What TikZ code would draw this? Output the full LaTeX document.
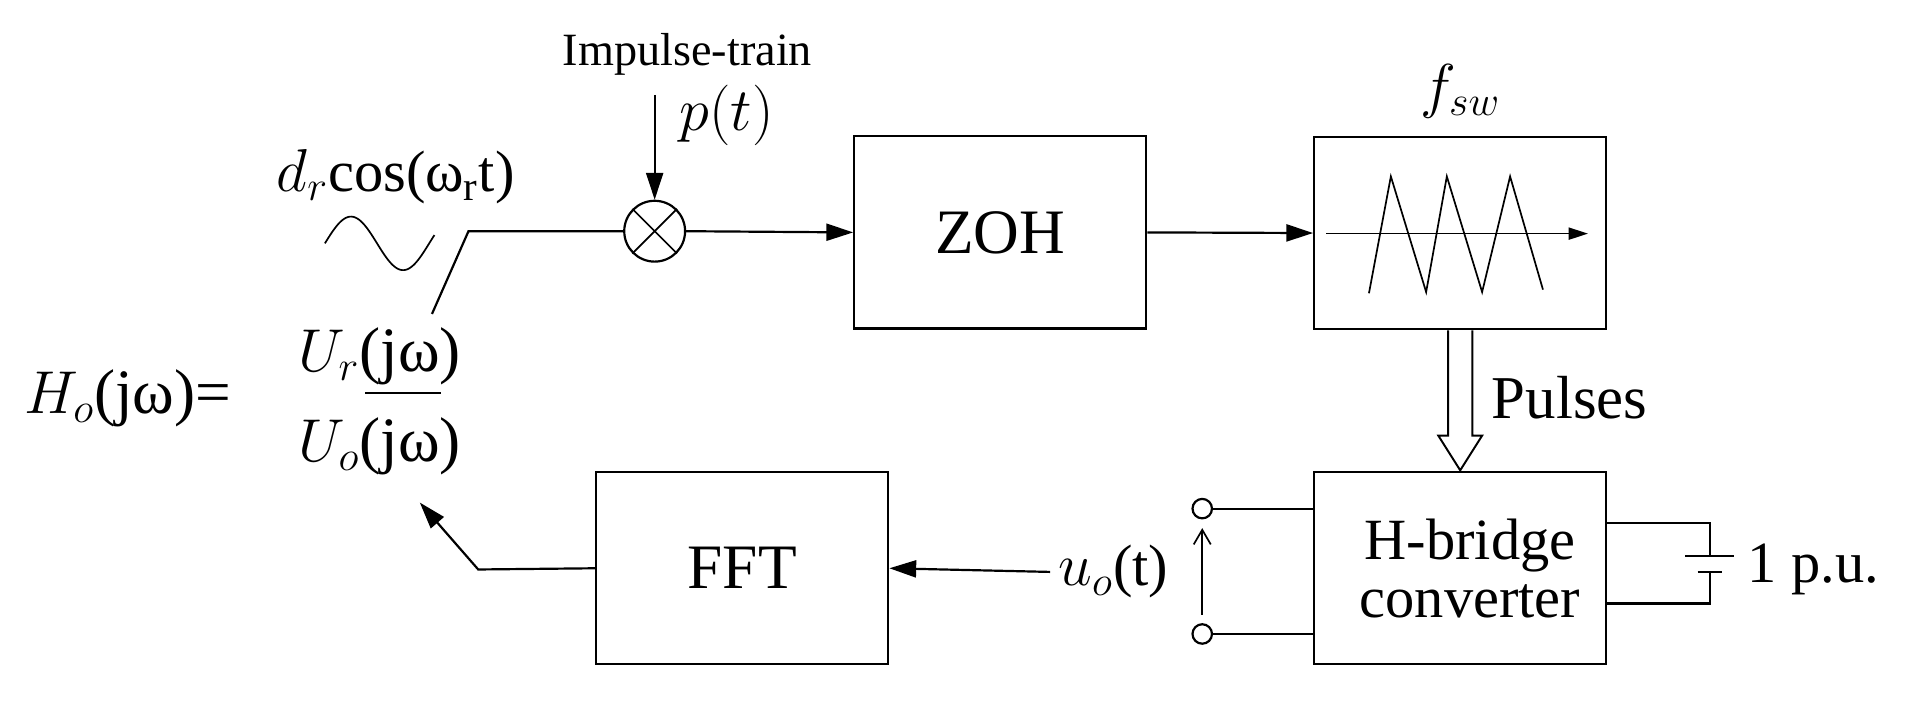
\documentclass[tikz,border=0pt]{standalone}
\usepackage{fontspec}
\setmainfont{Liberation Serif}
\usetikzlibrary{arrows.meta}
\begin{document}
\begin{tikzpicture}[x=0.5pt,y=-0.5pt,line width=0.9pt,
  blk/.style={draw,minimum width=120pt,minimum height=79pt,inner sep=0pt,font=\fontsize{26}{28}\selectfont},
  arr/.style={-{Triangle[length=11pt,width=7pt]}},
  lbl/.style={inner sep=0pt,font=\fontsize{24}{26}\selectfont},
  term/.style={circle,draw,minimum size=8pt,inner sep=0pt}]
\useasboundingbox (0,0) rectangle (1568,583);
\node[blk] (zoh) at (822,191) {ZOH};
\node[blk] (car) at (1200,191.5) {};
\node[blk] (hb) at (1200,467) {};
\node[blk] (fft) at (610,467) {FFT};
\node[lbl,align=center] at (1208,467) {H-bridge\\[-2pt]converter};
\node[circle,draw,minimum size=25pt,inner sep=0pt] (mul) at (538,190) {};
\draw[line width=0.7pt] (mul.north west) -- (mul.south east) (mul.north east) -- (mul.south west);
% labels
\node[lbl,font=\fontsize{19}{21}\selectfont] (imp) at (565,45) {Impulse-train};
\node[lbl] at (597,95) {$p(t)$};
\coordinate (pt) at (538,78);
\draw[arr] (pt) -- (mul.north);
\node[lbl] at (325,145) {$d_r$cos(ω\textsubscript{r}t)};
\node[lbl] at (1200,75) {$f_{sw}$};
% input switch
\coordinate (sw0) at (355,258);
\coordinate (sw1) at (385,190);
\draw (sw0) -- (sw1) -- (mul.west);
\draw[line width=0.7pt] plot[domain=0:90,samples=80] ({267+\x},{200-22*sin(\x*4.2)});
\draw[arr] (mul.east) -- (zoh.west);
\draw[arr] (zoh.east) -- (car.west);
% carrier
\coordinate (ax0) at (1090,192);
\coordinate (ax1) at (1305,192);
\draw[line width=0.7pt,-{Triangle[length=8pt,width=5pt]}] (ax0) -- (ax1);
\draw[line width=0.7pt] (1125,241) -- (1143,145) -- (1172,240) -- (1189,145) -- (1218,240) -- (1241,145) -- (1268,238);
% pulses
\draw[line width=0.8pt] (1190,271.5) -- (1190,358) -- (1182,358) -- (1200,386.5) -- (1218,358) -- (1210,358) -- (1210,271.5);
\node[lbl,font=\fontsize{25}{27}\selectfont] at (1290,327) {Pulses};
% terminals
\node[term] (t1) at (988,418) {};
\node[term] (t2) at (988,521) {};
\draw (t1.east) -- (hb.west |- 0,418);
\draw (t2.east) -- (hb.west |- 0,521);
\coordinate (v0) at (988,505);
\coordinate (v1) at (988,434);
\draw[line width=0.7pt,-{Straight Barb[length=6pt,width=7pt]}] (v0) -- (v1);
\node[lbl] (uo) at (915,470) {$u_o$(t)};
\draw[arr] (uo.west) ++(-6,0) coordinate (uoa) -- (fft.east);
% battery
\coordinate (b1) at (1405,430);
\coordinate (b2) at (1405,496);
\draw (hb.east |- b1) -- (b1) -- (1405,457);
\draw (1385,457) -- (1425,457);
\draw (1395,470) -- (1415,470);
\draw (1405,470) -- (b2) -- (hb.east |- b2);
\node[lbl] at (1490,468) {1 p.u.};
% feedback
\coordinate (fb) at (393,468);
\coordinate (fbt) at (345,413);
\draw[arr] (fft.west) -- (fb) -- (fbt);
% transfer function
\node[lbl,font=\fontsize{26}{28}\selectfont] at (105,327) {$H_o$(jω)=};
\draw (300,323) -- (362,323);
\node[lbl,font=\fontsize{26}{28}\selectfont] at (312,293) {$U_r$(jω)};
\node[lbl,font=\fontsize{26}{28}\selectfont] at (312,367) {$U_o$(jω)};
\end{tikzpicture}
\end{document}
